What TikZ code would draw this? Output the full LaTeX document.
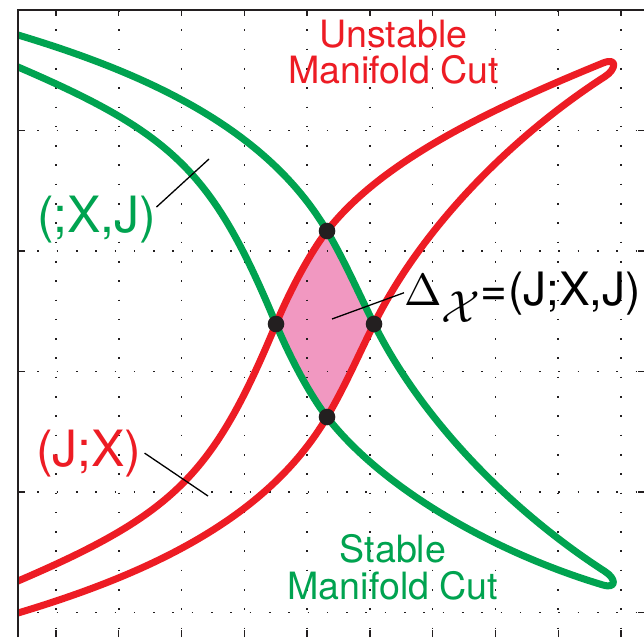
\documentclass[tikz,border=0pt]{standalone}
\usepackage{fontspec}
\newfontfamily\hv{TeX Gyre Heros}
\definecolor{mgreen}{RGB}{0,163,80}
\definecolor{mred}{RGB}{237,28,36}
\definecolor{mpink}{RGB}{241,152,193}
\definecolor{mdark}{RGB}{35,31,32}
\tikzset{
  gridline/.style={mdark, line width=1.6pt, line cap=butt, dash pattern=on 1.6pt off 17.7pt},
  axisline/.style={mdark, line width=2.6pt},
  tickline/.style={mdark, line width=1.4pt},
  gcurve/.style={mgreen, line width=7pt, line join=round},
  rcurve/.style={mred, line width=7pt, line join=round},
  crossdot/.style={circle, fill=mdark, inner sep=0pt, minimum size=16.6pt},
  leader/.style={black, line width=1.3pt},
  lbl/.style={inner sep=0pt, outer sep=0pt}
}
\def\greenband{(10,32.4) -- (18,35) .. controls (148,74) and (267,129) .. (327,231) .. controls (345,261.6) and (358,292) .. (374,324) .. controls (424,424) and (515,513.5) .. (605,571.5) .. controls (616,578.5) and (617,589) .. (603,585) .. controls (493,552) and (382,488) .. (327,417) .. controls (309,393.7) and (289,355.3) .. (276,324) .. controls (213.1,172.7) and (174.4,134.2) .. (18,67) -- (10,63.6)}
\def\redband{(10,615.4) -- (18,613) .. controls (148,574) and (267,519) .. (327,417) .. controls (345,386.4) and (358,356) .. (374,324) .. controls (424,224) and (515,134.5) .. (605,76.5) .. controls (616,69.5) and (618,57) .. (603,63) .. controls (493,108) and (382,160) .. (327,231) .. controls (309,254.3) and (289,292.7) .. (276,324) .. controls (213.1,475.3) and (174.4,513.8) .. (18,581) -- (10,584.4)}
\begin{document}
\begin{tikzpicture}[x=1pt,y=-1pt]
\useasboundingbox (0,0) rectangle (644,637);
\fill[white] (0,0) rectangle (644,637);

% pink region: intersection of both bands
\begin{scope}
\clip \greenband -- cycle;
\fill[mpink] \redband -- cycle;
\end{scope}

% grid
\foreach \k in {0,...,9} {
  \draw[gridline] ({56+62.78*\k},10) -- ({56+62.78*\k},637);
  \draw[tickline] ({56+62.78*\k},10) -- ({56+62.78*\k},16);
  \draw[tickline] ({56+62.78*\k},637) -- ({56+62.78*\k},630);
}
\foreach \gy in {130.5,251,371.5,492,612.5} {
  \draw[gridline] (18,\gy) -- (644,\gy);
  \draw[tickline] (18,\gy) -- (25,\gy);
  \draw[tickline] (644,\gy) -- (638,\gy);
}

% curves
\begin{scope}
\clip (18,0) rectangle (644,637);
\draw[gcurve] \greenband;
\draw[rcurve] \redband;
\end{scope}

% axes
\draw[axisline] (18,637) -- (18,10) -- (644,10);

% crossing points
\node[crossdot] (dtop) at (327,231) {};
\node[crossdot] (dleft) at (276,324) {};
\node[crossdot] (dright) at (374,324) {};
\node[crossdot] (dbot) at (327,417) {};

% labels
\node[lbl, anchor=north, align=center, text=mred, font=\hv\fontsize{37.6}{36}\selectfont] (unst) at (393.5,20) {Unstable\\Manifold Cut};
\node[lbl, anchor=north, align=center, text=mgreen, font=\hv\fontsize{37.6}{37}\selectfont] (stab) at (393,534) {Stable\\Manifold Cut};
\node[lbl, anchor=base west, text=mgreen, font=\hv\fontsize{50}{50}\selectfont] (lblS) at (37,232) {(;X,J)};
\node[lbl, anchor=base west, text=mred, font=\hv\fontsize{50}{50}\selectfont] (lblU) at (36,466) {(J;X)};
\node[lbl, anchor=base west, text=black] (lblD) at (404,305) {\fontsize{10}{12}\selectfont\scalebox{4.5}{$\Delta$}\raisebox{-17pt}{\scalebox{4.5}{$\mathcal{X}$}}{\hv\fontsize{46}{46}\selectfont=\hspace{1pt}(J;X,J)}};

% leader lines
\coordinate (pS) at (209,159);
\coordinate (pU) at (208,496);
\coordinate (pD) at (332,319);
\draw[leader] ([yshift=12pt]lblS.east) -- (pS);
\draw[leader] ([xshift=3pt]lblU.east) -- (pU);
\draw[leader] ([yshift=4pt]lblD.west) -- (pD);
\end{tikzpicture}
\end{document}
